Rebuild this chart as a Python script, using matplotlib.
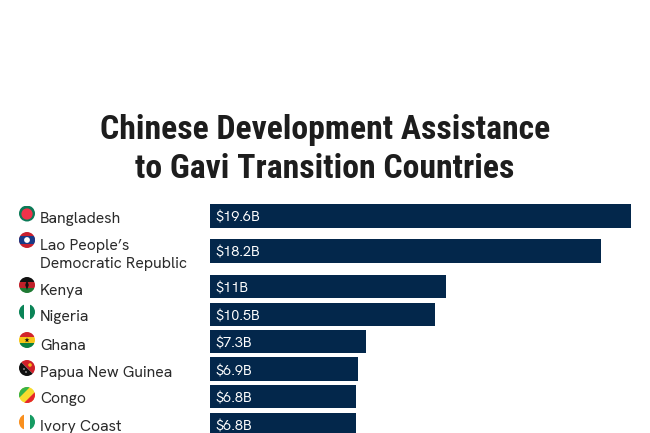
import matplotlib
matplotlib.use("Agg")
import matplotlib.pyplot as plt
from matplotlib.patches import Circle, Rectangle, Polygon

# Data
countries = ["Bangladesh", "Lao People\u2019s\nDemocratic Republic", "Kenya", "Nigeria",
             "Ghana", "Papua New Guinea", "Congo", "Ivory Coast"]
values = [19.6, 18.2, 11, 10.5, 7.3, 6.9, 6.8, 6.8]
value_labels = ["$19.6B", "$18.2B", "$11B", "$10.5B", "$7.3B", "$6.9B", "$6.8B", "$6.8B"]
title = "Chinese Development Assistance\nto Gavi Transition Countries"

# Layout (pixels)
W, H = 650, 433
row_y = [215.8, 251, 286.5, 314.5, 341.7, 369.2, 396.7, 424.5]
flag_y = [213.5, 240, 285, 312, 340, 368, 395, 422]
label_y = [219.5, 255, 290.5, 317.5, 345.5, 372.5, 399.5, 427.5]
BAR_H = 23.5
X0, PX_PER = 209.5, 21.5
NAVY = "#03274b"
TXT = "#2b2b2b"
BODY = ["Hanken Grotesk", "Lato", "DejaVu Sans"]
HEAD = ["Roboto Condensed", "Roboto", "DejaVu Sans"]

fig = plt.figure(figsize=(W/100, H/100), dpi=100, facecolor="white")
ax = fig.add_axes([0, 0, 1, 1])
ax.set_xlim(-X0/PX_PER, (W-X0)/PX_PER)
ax.set_ylim(H, 0)
ax.axis("off")
ax.barh(row_y, values, height=BAR_H, left=0, color=NAVY, linewidth=0)

# Overlay in pixel coordinates
ov = fig.add_axes([0, 0, 1, 1])
ov.set_xlim(0, W); ov.set_ylim(H, 0); ov.axis("off"); ov.patch.set_alpha(0)

ov.text(325, 149.5, title, ha="center", va="center", fontsize=24.3, fontweight="bold",
        family=HEAD, color="#1d1d1d", linespacing=1.25)

for name, vl, ry, ly in zip(countries, value_labels, row_y, label_y):
    ov.text(40, ly, name, ha="left", va="center", fontsize=11.4, family=BODY,
            color=TXT, linespacing=1.42)
    ov.text(215.5, ry + 2.5, vl, ha="left", va="center", fontsize=10.5, family=BODY, color="white")

R = 8
FX = 27

def flag(cy, parts):
    clip = Circle((FX, cy), R, transform=ov.transData)
    for p in parts:
        ov.add_patch(p)
        p.set_clip_path(clip)

def hb(cy, y0, y1, c):
    return Rectangle((FX-R, cy+y0), 2*R, y1-y0, fc=c, lw=0)

def vb(cy, x0, x1, c):
    return Rectangle((FX+x0, cy-R), x1-x0, 2*R, fc=c, lw=0)

c = flag_y[0]
flag(c, [hb(c, -R, R, "#0b7a57"), Circle((FX, c+0.5), 5.6, fc="#f0324a", lw=0)])
c = flag_y[1]
flag(c, [hb(c, -R, R, "#c8202f"), hb(c, -4.2, 4.2, "#1a3a86"), Circle((FX, c), 2.9, fc="white", lw=0)])
c = flag_y[2]
flag(c, [hb(c, -R, -3, "#111111"), hb(c, -3, 3, "#c0202a"), hb(c, 3, R, "#1f7a33"),
         hb(c, -3.3, -2.7, "white"), hb(c, 2.7, 3.3, "white"),
         Polygon([(FX, c-5), (FX+1.8, c), (FX, c+5), (FX-1.8, c)], fc="#111111", lw=0)])
c = flag_y[3]
flag(c, [vb(c, -R, -2.7, "#0b8457"), vb(c, -2.7, 2.7, "white"), vb(c, 2.7, R, "#0b8457")])
c = flag_y[4]
flag(c, [hb(c, -R, -2.7, "#d2232a"), hb(c, -2.7, 2.7, "#f5c518"), hb(c, 2.7, R, "#0b8040"),
         Polygon([(FX, c-2.5), (FX+0.7, c-0.7), (FX+2.5, c-0.7), (FX+1, c+0.4), (FX+1.6, c+2.3),
                  (FX, c+1.2), (FX-1.6, c+2.3), (FX-1, c+0.4), (FX-2.5, c-0.7), (FX-0.7, c-0.7)],
                 fc="#111111", lw=0)])
c = flag_y[5]
flag(c, [Polygon([(FX-R, c-R), (FX+R, c-R), (FX+R, c+R)], fc="#d0202a", lw=0),
         Polygon([(FX-R, c-R), (FX+R, c+R), (FX-R, c+R)], fc="#111111", lw=0),
         Circle((FX+3, c-3), 1.8, fc="#f5b51b", lw=0),
         Circle((FX-3, c+1), 0.7, fc="white", lw=0), Circle((FX-1, c+4), 0.7, fc="white", lw=0)])
c = flag_y[6]
flag(c, [hb(c, -R, R, "#f7dc2e"),
         Polygon([(FX-R, c-R), (FX+3, c-R), (FX-R, c+3)], fc="#36b34a", lw=0),
         Polygon([(FX+R, c+R), (FX-3, c+R), (FX+R, c-3)], fc="#e5262d", lw=0)])
c = flag_y[7]
flag(c, [vb(c, -R, -2.7, "#f98f1e"), vb(c, -2.7, 2.7, "white"), vb(c, 2.7, R, "#169b62")])

fig.savefig("out.png", dpi=100, facecolor="white")
